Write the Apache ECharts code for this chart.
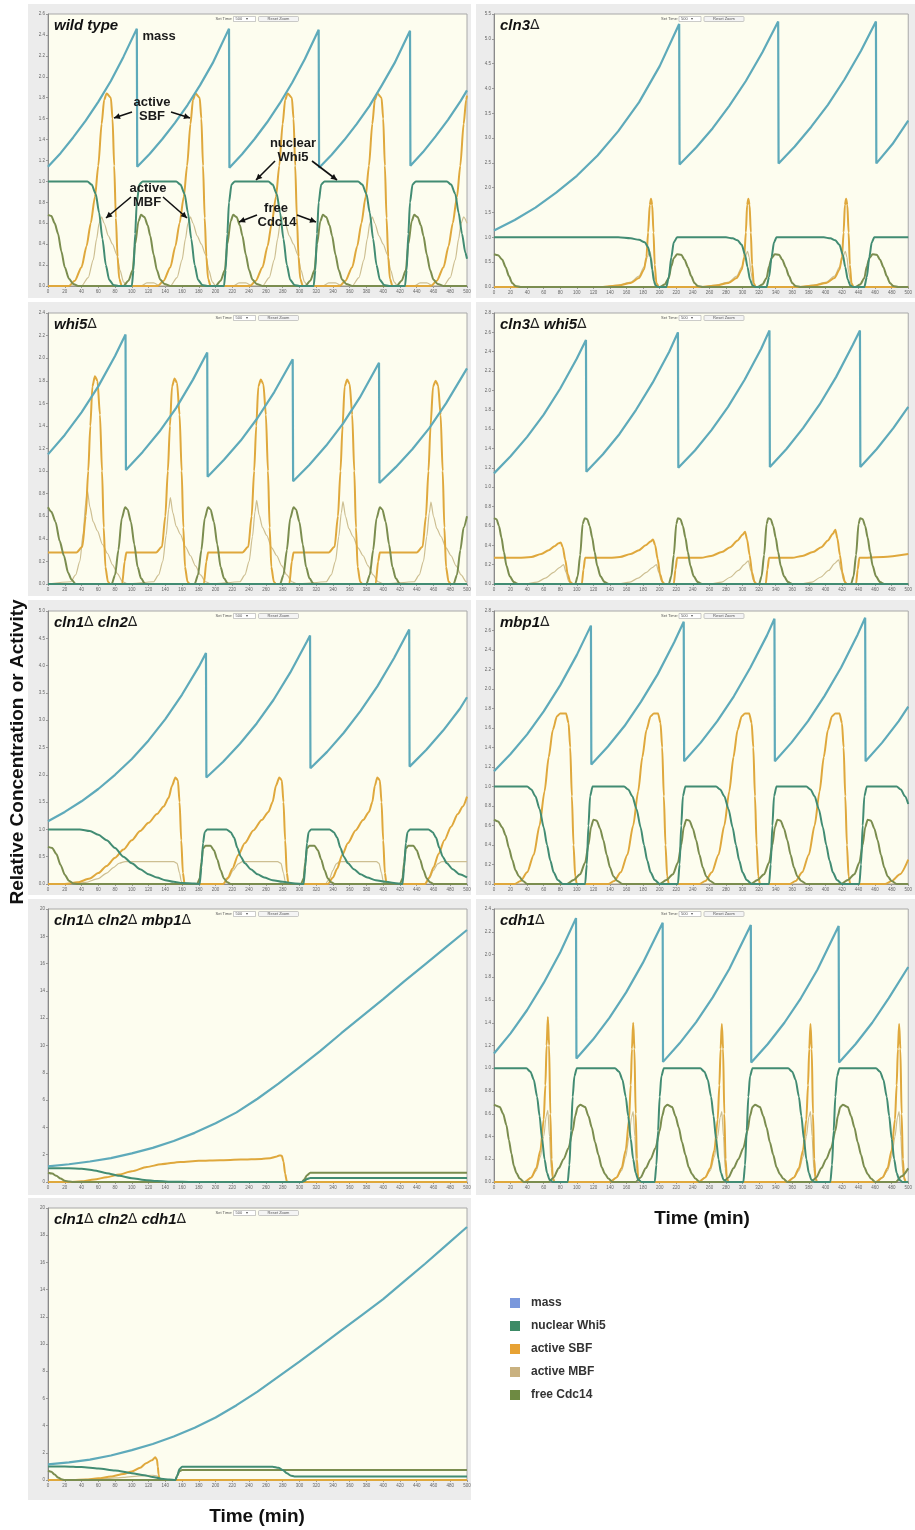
<!DOCTYPE html>
<html><head><meta charset="utf-8">
<script src="https://cdn.jsdelivr.net/npm/echarts@6/dist/echarts.min.js"></script>
<style>html,body{margin:0;padding:0;background:#fff}#c{width:915px;height:1530px}</style>
</head><body><div id="c"></div>
<script>
// ---------- tick labels / axes ----------
const timeMin = 0, timeMax = 500, timeStep = 20;
const seriesNames = ['active MBF', 'active SBF', 'free Cdc14', 'nuclear Whi5', 'mass'];
const legendNames = ['mass', 'nuclear Whi5', 'active SBF', 'active MBF', 'free Cdc14'];
const panelTitles = ['wild type', 'cln3Δ', 'whi5Δ', 'cln3Δ whi5Δ', 'cln1Δ cln2Δ', 'mbp1Δ', 'cln1Δ cln2Δ mbp1Δ', 'cdh1Δ', 'cln1Δ cln2Δ cdh1Δ'];
const yMaxes = [2.6, 5.5, 2.4, 2.8, 5.0, 2.8, 20, 2.4, 20];
const yIntervals = [0.2, 0.5, 0.2, 0.2, 0.5, 0.2, 2, 0.2, 2];

// ---------- wild type ----------
const wt_mass = [[0,1.14],[15,1.27],[30,1.42],[45,1.58],[60,1.76],[75,1.96],[90,2.19],[106,2.46],[106.5,1.14],[121.5,1.265],[136.5,1.405],[151.5,1.56],[166.5,1.73],[181.5,1.92],[196.5,2.13],[216,2.46],[216.5,1.13],[231.5,1.26],[246.5,1.405],[261.5,1.565],[276.5,1.745],[291.5,1.945],[306.5,2.17],[323,2.45],[323.5,1.13],[338.5,1.255],[353.5,1.395],[368.5,1.55],[383.5,1.72],[398.5,1.92],[413.5,2.13],[432,2.44],[432.5,1.15],[447.5,1.28],[462.5,1.43],[477.5,1.59],[492.5,1.77],[500,1.87]];
const wt_whi5 = [[0,1.0],[47,1.0],[52,0.97],[57,0.88],[61,0.7],[65,0.45],[69,0.2],[73,0.06],[78,0.01],[84,0],[100,0],[102,0.15],[104,0.5],[106,0.8],[109,0.97],[113,1.0],[153,1.0],[158,0.97],[163,0.88],[167,0.7],[171,0.45],[175,0.2],[179,0.06],[184,0.01],[190,0],[210,0],[212,0.15],[214,0.5],[216,0.8],[219,0.97],[223,1.0],[263,1.0],[268,0.97],[273,0.88],[277,0.7],[281,0.45],[285,0.2],[289,0.06],[294,0.01],[300,0],[317,0],[319,0.15],[321,0.5],[323,0.8],[326,0.97],[330,1.0],[370,1.0],[375,0.97],[380,0.88],[384,0.7],[388,0.45],[392,0.2],[396,0.06],[401,0.01],[407,0],[426,0],[428,0.15],[430,0.5],[432,0.8],[435,0.97],[439,1.0],[476,1.0],[481,0.97],[486,0.88],[490,0.7],[494,0.5],[498,0.32],[500,0.26]];
const wt_sbf = [[0,0],[25,0],[32,0.05],[40,0.18],[46,0.38],[51,0.6],[56,0.85],[60,1.15],[64,1.55],[67,1.78],[70,1.84],[75,1.8],[77,1.6],[79,1.15],[81,0.65],[83,0.28],[85,0.07],[88,0],[131,0],[138,0.05],[146,0.18],[152,0.38],[157,0.6],[162,0.85],[166,1.15],[170,1.55],[173,1.78],[176,1.84],[181,1.8],[183,1.6],[185,1.15],[187,0.65],[189,0.28],[191,0.07],[194,0],[241,0],[248,0.05],[256,0.18],[262,0.38],[267,0.6],[272,0.85],[276,1.15],[280,1.55],[283,1.78],[286,1.84],[291,1.8],[293,1.6],[295,1.15],[297,0.65],[299,0.28],[301,0.07],[304,0],[348,0],[355,0.05],[363,0.18],[369,0.38],[374,0.6],[379,0.85],[383,1.15],[387,1.55],[390,1.78],[393,1.84],[398,1.8],[400,1.6],[402,1.15],[404,0.65],[406,0.28],[408,0.07],[411,0],[457,0],[464,0.05],[472,0.18],[478,0.38],[483,0.6],[488,0.85],[492,1.15],[496,1.55],[499,1.78],[500,1.82]];
const wt_mbf = [[0,0],[40,0],[48,0.08],[54,0.25],[58,0.45],[61,0.6],[64,0.66],[67,0.6],[72,0.48],[77,0.4],[82,0.3],[86,0.15],[90,0.04],[94,0],[111,0],[118,0.03],[126,0.03],[134,0],[146,0],[154,0.08],[160,0.25],[164,0.45],[167,0.6],[170,0.66],[173,0.6],[178,0.48],[183,0.4],[188,0.3],[192,0.15],[196,0.04],[200,0],[221,0],[228,0.03],[236,0.03],[244,0],[256,0],[264,0.08],[270,0.25],[274,0.45],[277,0.6],[280,0.66],[283,0.6],[288,0.48],[293,0.4],[298,0.3],[302,0.15],[306,0.04],[310,0],[328,0],[335,0.03],[343,0.03],[351,0],[363,0],[371,0.08],[377,0.25],[381,0.45],[384,0.6],[387,0.66],[390,0.6],[395,0.48],[400,0.4],[405,0.3],[409,0.15],[413,0.04],[417,0],[437,0],[444,0.03],[452,0.03],[460,0],[472,0],[480,0.08],[486,0.25],[490,0.45],[493,0.6],[496,0.66],[500,0.6]];
const wt_cdc14 = [[0,0.68],[4,0.67],[8,0.6],[12,0.5],[16,0.33],[20,0.18],[25,0.07],[30,0.02],[36,0],[90,0],[96,0.05],[101,0.15],[104,0.4],[108,0.62],[111,0.68],[115,0.66],[119,0.58],[122,0.48],[126,0.3],[130,0.15],[134,0.06],[139,0.02],[146,0],[200,0],[206,0.05],[211,0.15],[214,0.4],[218,0.62],[221,0.68],[225,0.66],[229,0.58],[232,0.48],[236,0.3],[240,0.15],[244,0.06],[249,0.02],[256,0],[307,0],[313,0.05],[318,0.15],[321,0.4],[325,0.62],[328,0.68],[332,0.66],[336,0.58],[339,0.48],[343,0.3],[347,0.15],[351,0.06],[356,0.02],[363,0],[416,0],[422,0.05],[427,0.15],[430,0.4],[434,0.62],[437,0.68],[441,0.66],[445,0.58],[448,0.48],[452,0.3],[456,0.15],[460,0.06],[465,0.02],[472,0],[500,0]];

// ---------- cln3Δ ----------
const c3_mass = [[0,1.14],[25,1.35],[50,1.6],[75,1.9],[100,2.24],[125,2.65],[150,3.14],[175,3.72],[200,4.45],[223.5,5.3],[224,2.47],[244,2.81],[264,3.2],[284,3.65],[304,4.15],[324,4.73],[343,5.35],[343.5,2.49],[363,2.83],[383,3.23],[403,3.67],[423,4.18],[443,4.76],[461,5.35],[461.5,2.49],[481,2.88],[500,3.35]];
const c3_whi5 = [[0,1.0],[150,1.0],[165,0.98],[175,0.95],[182,0.9],[186,0.8],[189,0.6],[191,0.35],[193,0.12],[195,0.03],[198,0],[208,0],[211,0.2],[214,0.6],[217,0.9],[221,1.0],[280,1.0],[288,0.98],[294,0.94],[299,0.85],[303,0.65],[306,0.4],[309,0.15],[312,0.03],[316,0],[329,0],[332,0.2],[335,0.6],[338,0.9],[341,1.0],[398,1.0],[406,0.98],[412,0.94],[417,0.85],[421,0.65],[424,0.4],[427,0.15],[430,0.03],[434,0],[447,0],[450,0.2],[453,0.6],[456,0.9],[459,1.0],[500,1.0]];
const c3_sbf = [[0,0],[130,0],[150,0.03],[165,0.08],[175,0.18],[181,0.35],[184,0.6],[186,1.1],[188,1.65],[189.5,1.78],[191,1.65],[192.5,1.1],[194,0.45],[196,0.08],[199,0],[250,0],[268,0.03],[283,0.08],[293,0.18],[299,0.35],[302,0.6],[304,1.1],[305.5,1.65],[307,1.78],[308.5,1.65],[310,1.1],[311.5,0.45],[313.5,0.08],[316,0],[368,0],[386,0.03],[401,0.08],[411,0.18],[417,0.35],[420,0.6],[422,1.1],[423.5,1.65],[425,1.78],[426.5,1.65],[428,1.1],[429.5,0.45],[431.5,0.08],[434,0],[500,0]];
const c3_mbf = [[0,0],[130,0],[150,0.04],[165,0.1],[175,0.22],[181,0.4],[185,0.6],[188,0.72],[190,0.6],[192,0.3],[195,0.06],[198,0],[250,0],[268,0.04],[283,0.1],[293,0.22],[299,0.4],[303,0.6],[306,0.72],[308,0.6],[310,0.3],[313,0.06],[316,0],[368,0],[386,0.04],[401,0.1],[411,0.22],[417,0.4],[421,0.6],[424,0.72],[426,0.6],[428,0.3],[431,0.06],[434,0],[500,0]];
const c3_cdc14 = [[0,0.66],[5,0.64],[10,0.55],[14,0.4],[18,0.22],[22,0.08],[26,0.02],[32,0],[200,0],[206,0.05],[211,0.18],[214,0.42],[217,0.58],[221,0.66],[226,0.65],[230,0.55],[234,0.4],[238,0.22],[242,0.08],[246,0.02],[252,0],[318,0],[324,0.05],[329,0.18],[332,0.42],[335,0.58],[339,0.66],[344,0.65],[348,0.55],[352,0.4],[356,0.22],[360,0.08],[364,0.02],[370,0],[436,0],[442,0.05],[447,0.18],[450,0.42],[453,0.58],[457,0.66],[462,0.65],[466,0.55],[470,0.4],[474,0.22],[478,0.08],[482,0.02],[488,0],[500,0]];

// ---------- whi5Δ ----------
const w5_mass = [[0,1.148],[20,1.32],[40,1.52],[60,1.75],[80,2.02],[92.5,2.21],[93,1.01],[113,1.17],[133,1.35],[153,1.56],[173,1.81],[190,2.05],[190.5,0.95],[210,1.1],[230,1.27],[250,1.47],[270,1.7],[292,1.99],[292.5,0.91],[312,1.056],[332,1.226],[352,1.42],[372,1.65],[395,1.96],[395.5,0.895],[415,1.035],[435,1.196],[455,1.38],[475,1.6],[500,1.91]];
const w5_whi5 = [[0,0],[500,0]];
const w5_sbf = [[0,0.28],[34,0.28],[41,0.33],[45,0.6],[48,1.0],[50.5,1.4],[53,1.75],[56,1.84],[59,1.8],[62,1.5],[64.5,1.0],[66.5,0.5],[68.5,0.15],[71.5,0.02],[74,0],[88.5,0],[91.5,0.2],[93.5,0.28],[129,0.28],[136,0.33],[140,0.6],[143,1.0],[145.5,1.4],[148,1.75],[151,1.82],[154,1.78],[157,1.5],[159.5,1.0],[161.5,0.5],[163.5,0.15],[166.5,0.02],[169,0],[186,0],[189,0.2],[191,0.28],[232,0.28],[239,0.33],[243,0.6],[246,1.0],[248.5,1.4],[251,1.75],[254,1.81],[257,1.77],[260,1.5],[262.5,1.0],[264.5,0.5],[266.5,0.15],[269.5,0.02],[272,0],[288,0],[291,0.2],[293,0.28],[335,0.28],[342,0.33],[346,0.6],[349,1.0],[351.5,1.4],[354,1.75],[357,1.81],[360,1.77],[363,1.5],[365.5,1.0],[367.5,0.5],[369.5,0.15],[372.5,0.02],[375,0],[391,0],[394,0.2],[396,0.28],[440,0.28],[447,0.33],[451,0.6],[454,1.0],[456.5,1.4],[459.5,1.75],[462.5,1.8],[465.5,1.76],[468.5,1.5],[471,1.0],[473,0.5],[475,0.15],[478,0.02],[481,0],[500,0]];
const w5_mbf = [[0,0],[27,0.02],[33,0.08],[38,0.2],[42,0.45],[45,0.72],[47,0.83],[50,0.68],[54,0.55],[59,0.47],[65,0.35],[71,0.27],[77,0.17],[83,0.09],[89,0.02],[95,0],[126,0.02],[132,0.08],[137,0.2],[141,0.43],[144,0.66],[146,0.765],[149,0.63],[153,0.51],[158,0.44],[164,0.33],[170,0.25],[176,0.16],[182,0.08],[188,0.02],[194,0],[229,0.02],[235,0.08],[240,0.2],[244,0.42],[247,0.64],[249,0.74],[252,0.61],[256,0.5],[261,0.43],[267,0.32],[273,0.25],[279,0.16],[285,0.08],[291,0.02],[297,0],[332,0.02],[338,0.08],[343,0.2],[347,0.42],[350,0.63],[352,0.73],[355,0.6],[359,0.49],[364,0.42],[370,0.32],[376,0.25],[382,0.16],[388,0.08],[394,0.02],[400,0],[437,0.02],[443,0.08],[448,0.2],[452,0.42],[455,0.63],[457,0.726],[460,0.6],[464,0.49],[469,0.42],[475,0.32],[481,0.25],[487,0.16],[493,0.08],[499,0.02],[500,0.02]];
const w5_cdc14 = [[0,0.68],[4,0.64],[9,0.55],[14,0.38],[19,0.25],[24,0.1],[28,0.04],[33,0],[76,0],[80,0.08],[84,0.3],[88,0.58],[92,0.68],[95,0.66],[99,0.55],[103,0.35],[107,0.15],[111,0.05],[116,0],[175,0],[179,0.08],[183,0.3],[187,0.58],[191,0.68],[194,0.66],[198,0.55],[202,0.35],[206,0.15],[210,0.05],[215,0],[277,0],[281,0.08],[285,0.3],[289,0.58],[293,0.68],[296,0.66],[300,0.55],[304,0.35],[308,0.15],[312,0.05],[317,0],[380,0],[384,0.08],[388,0.3],[392,0.58],[396,0.68],[399,0.66],[403,0.55],[407,0.35],[411,0.15],[415,0.05],[420,0],[484,0],[488,0.08],[492,0.3],[496,0.5],[500,0.6]];

// ---------- cln3Δ whi5Δ ----------
const c3w5_mass = [[0,1.143],[20,1.32],[40,1.52],[60,1.75],[80,2.02],[100,2.33],[111,2.52],[111.5,1.16],[131.5,1.34],[151.5,1.55],[171.5,1.8],[191.5,2.08],[211.5,2.4],[222,2.6],[222.5,1.2],[242.5,1.38],[262.5,1.59],[282.5,1.83],[302.5,2.11],[322.5,2.43],[332.5,2.62],[333,1.21],[353,1.395],[373,1.61],[393,1.855],[413,2.14],[433,2.47],[441.7,2.62],[442.2,1.21],[462,1.395],[482,1.61],[500,1.83]];
const c3w5_whi5 = [[0,0],[500,0]];
const c3w5_sbf = [[0,0.27],[30,0.27],[45,0.28],[57,0.31],[66,0.35],[73,0.39],[78,0.42],[80.5,0.43],[83,0.38],[86,0.25],[89,0.1],[92,0.02],[95,0],[106,0],[108,0.15],[110,0.27],[140,0.27],[152,0.28],[165,0.31],[175,0.35],[183,0.4],[189,0.44],[192,0.46],[194.5,0.4],[197.5,0.26],[200.5,0.1],[203.5,0.02],[206,0],[217,0],[219,0.15],[221,0.27],[250,0.27],[262,0.29],[275,0.33],[285,0.38],[294,0.45],[300,0.51],[303,0.54],[305.5,0.46],[308.5,0.3],[311.5,0.12],[314.5,0.02],[317,0],[328,0],[330,0.15],[332,0.27],[360,0.27],[372,0.29],[385,0.33],[395,0.38],[403,0.45],[409,0.52],[412,0.56],[414.5,0.47],[417.5,0.3],[420.5,0.12],[423.5,0.02],[426,0],[437,0],[439,0.15],[441,0.27],[470,0.28],[500,0.31]];
const c3w5_mbf = [[0,0],[37,0],[52,0.02],[62,0.06],[72,0.12],[79,0.17],[84,0.2],[87,0.12],[90,0.03],[93,0],[149,0],[164,0.02],[174,0.06],[184,0.12],[191,0.17],[196,0.2],[199,0.12],[202,0.03],[205,0],[260,0],[275,0.02],[285,0.07],[295,0.14],[302,0.2],[307,0.24],[310,0.14],[313,0.04],[316,0],[369,0],[384,0.02],[394,0.07],[404,0.14],[411,0.21],[416,0.25],[419,0.14],[422,0.04],[425,0],[500,0]];
const c3w5_cdc14 = [[0,0.68],[3,0.67],[6,0.6],[9,0.48],[12,0.33],[15,0.19],[19,0.08],[24,0.02],[29,0],[98,0],[101,0.08],[104,0.3],[107,0.62],[109.5,0.68],[112.5,0.67],[115.5,0.6],[118.5,0.48],[121.5,0.33],[124.5,0.19],[128.5,0.08],[133.5,0.02],[138.5,0],[211,0],[214,0.08],[217,0.3],[220,0.62],[222,0.68],[225,0.67],[228,0.6],[231,0.48],[234,0.33],[237,0.19],[241,0.08],[246,0.02],[251,0],[320,0],[323,0.08],[326,0.3],[329,0.62],[331,0.68],[334,0.67],[337,0.6],[340,0.48],[343,0.33],[346,0.19],[350,0.08],[355,0.02],[360,0],[431,0],[434,0.08],[437,0.3],[440,0.62],[442,0.68],[445,0.67],[448,0.6],[451,0.48],[454,0.33],[457,0.19],[461,0.08],[466,0.02],[471,0],[500,0]];

// ---------- cln1Δ cln2Δ ----------
const c12_mass = [[0,1.15],[20,1.32],[40,1.515],[60,1.74],[80,2.0],[100,2.29],[120,2.63],[140,3.02],[160,3.47],[180,3.98],[188.5,4.23],[189,1.95],[209,2.24],[229,2.57],[249,2.94],[269,3.37],[289,3.87],[309,4.44],[312.7,4.55],[313.2,2.12],[333,2.42],[353,2.77],[373,3.17],[393,3.62],[413,4.14],[431,4.66],[431.5,2.15],[451.5,2.46],[471.5,2.81],[491.5,3.21],[500,3.42]];
const c12_whi5 = [[0,1.0],[38,1.0],[50,0.97],[60,0.9],[70,0.8],[80,0.66],[90,0.5],[100,0.38],[110,0.27],[120,0.18],[130,0.12],[140,0.07],[150,0.04],[160,0.02],[175,0.01],[181,0],[183,0.3],[185,0.75],[187,0.95],[190,1.0],[213,1.0],[218,0.95],[222,0.85],[226,0.66],[230,0.5],[235,0.38],[242,0.27],[250,0.18],[258,0.12],[268,0.07],[280,0.04],[295,0.01],[305,0],[307,0.3],[309,0.75],[311,0.95],[314,1.0],[336,1.0],[341,0.95],[345,0.85],[349,0.66],[353,0.5],[358,0.38],[365,0.27],[373,0.18],[381,0.12],[391,0.07],[403,0.04],[418,0.01],[423,0],[425,0.3],[427,0.75],[429,0.95],[432,1.0],[454,1.0],[459,0.95],[463,0.85],[467,0.66],[471,0.5],[476,0.38],[483,0.27],[491,0.18],[500,0.12]];
const c12_sbf = [[0,0],[20,0],[35,0.03],[50,0.1],[60,0.2],[70,0.33],[80,0.48],[90,0.63],[100,0.8],[110,0.97],[120,1.12],[130,1.28],[138,1.42],[144,1.58],[148,1.8],[152,1.95],[155,1.9],[157,1.5],[159,0.8],[161,0.2],[163,0],[209,0],[215,0.12],[220,0.28],[227,0.53],[235,0.75],[245,0.98],[255,1.17],[263,1.32],[268,1.5],[272,1.8],[276,1.95],[279,1.9],[281,1.5],[283,0.8],[285,0.2],[287,0],[334,0],[340,0.12],[345,0.28],[351,0.53],[358,0.75],[367,0.98],[376,1.17],[383,1.32],[387,1.5],[390,1.8],[393,1.95],[396,1.9],[398,1.5],[400,0.8],[402,0.2],[404,0],[450,0],[455,0.12],[460,0.3],[466,0.55],[473,0.8],[481,1.05],[489,1.28],[495,1.42],[500,1.6]];
const c12_mbf = [[0,0],[30,0],[45,0.03],[60,0.1],[70,0.2],[78,0.3],[85,0.38],[92,0.41],[150,0.41],[154,0.38],[157,0.2],[159,0.05],[161,0],[209,0],[215,0.1],[221,0.25],[227,0.37],[232,0.41],[274,0.41],[278,0.38],[281,0.2],[283,0.05],[285,0],[331,0],[336,0.1],[340,0.25],[344,0.37],[348,0.41],[392,0.41],[395,0.38],[398,0.2],[400,0.05],[402,0],[450,0],[455,0.1],[460,0.25],[465,0.37],[470,0.41],[500,0.41]];
const c12_cdc14 = [[0,0.68],[5,0.66],[10,0.55],[15,0.35],[20,0.17],[25,0.06],[30,0.01],[36,0],[178,0],[181,0.1],[183,0.4],[185,0.65],[188,0.7],[194,0.7],[198,0.62],[202,0.45],[206,0.25],[210,0.1],[214,0.03],[218,0],[302,0],[305,0.1],[307,0.4],[309,0.65],[312,0.7],[318,0.7],[322,0.62],[326,0.45],[330,0.25],[334,0.1],[338,0.03],[342,0],[420,0],[423,0.1],[425,0.4],[427,0.65],[430,0.7],[436,0.7],[440,0.62],[444,0.45],[448,0.25],[452,0.1],[456,0.03],[460,0],[500,0]];

// ---------- mbp1Δ ----------
const mb_mass = [[0,1.157],[20,1.333],[40,1.535],[60,1.77],[80,2.04],[100,2.35],[117,2.65],[117.5,1.226],[137.5,1.41],[157.5,1.62],[177.5,1.87],[197.5,2.15],[217.5,2.48],[229,2.69],[229.5,1.26],[249.5,1.45],[269.5,1.67],[289.5,1.925],[309.5,2.22],[329.5,2.55],[338.5,2.72],[339,1.26],[359,1.45],[379,1.67],[399,1.93],[419,2.22],[439,2.56],[448,2.73],[448.5,1.26],[468.5,1.45],[488.5,1.67],[500,1.82]];
const mb_whi5 = [[0,1.0],[40,1.0],[45,0.97],[50,0.9],[55,0.77],[60,0.58],[64,0.4],[68,0.24],[72,0.12],[77,0.04],[83,0],[110,0],[112,0.2],[114,0.6],[116,0.9],[119,1.0],[157,1.0],[162,0.97],[167,0.9],[172,0.77],[177,0.58],[181,0.4],[185,0.24],[189,0.12],[194,0.04],[200,0],[222,0],[224,0.2],[226,0.6],[228,0.9],[231,1.0],[268,1.0],[273,0.97],[278,0.9],[283,0.77],[288,0.58],[292,0.4],[296,0.24],[300,0.12],[305,0.04],[311,0],[332,0],[334,0.2],[336,0.6],[338,0.9],[341,1.0],[377,1.0],[382,0.97],[387,0.9],[392,0.77],[397,0.58],[401,0.4],[405,0.24],[409,0.12],[414,0.04],[420,0],[441,0],[443,0.2],[445,0.6],[447,0.9],[450,1.0],[486,1.0],[491,0.97],[496,0.9],[500,0.82]];
const mb_sbf = [[0,0],[25,0],[32,0.03],[40,0.12],[48,0.3],[55,0.6],[61,0.95],[66,1.3],[71,1.58],[76,1.72],[80,1.75],[87,1.75],[90,1.65],[92,1.4],[94,0.9],[96,0.4],[98,0.08],[100,0],[138,0],[145,0.03],[153,0.12],[161,0.3],[168,0.6],[174,0.95],[179,1.3],[184,1.58],[189,1.72],[193,1.75],[198,1.75],[201,1.65],[203,1.4],[205,0.9],[207,0.4],[209,0.08],[211,0],[248,0],[255,0.03],[263,0.12],[271,0.3],[278,0.6],[284,0.95],[289,1.3],[294,1.58],[299,1.72],[303,1.75],[308,1.75],[311,1.65],[313,1.4],[315,0.9],[317,0.4],[319,0.08],[321,0],[357,0],[364,0.03],[372,0.12],[380,0.3],[387,0.6],[393,0.95],[398,1.3],[403,1.58],[408,1.72],[412,1.75],[417,1.75],[420,1.65],[422,1.4],[424,0.9],[426,0.4],[428,0.08],[430,0],[472,0],[480,0.03],[490,0.1],[500,0.25]];
const mb_mbf = [[0,0],[500,0]];
const mb_cdc14 = [[0,0.66],[5,0.64],[10,0.58],[14,0.5],[18,0.37],[22,0.25],[26,0.14],[30,0.08],[35,0.03],[40,0],[88,0],[96,0.04],[104,0.1],[110,0.22],[114,0.4],[117,0.58],[120,0.66],[124,0.65],[128,0.57],[132,0.45],[136,0.3],[140,0.17],[144,0.08],[149,0.03],[155,0],[200,0],[208,0.04],[216,0.1],[222,0.22],[226,0.4],[229,0.58],[232,0.66],[236,0.65],[240,0.57],[244,0.45],[248,0.3],[252,0.17],[256,0.08],[261,0.03],[267,0],[310,0],[318,0.04],[326,0.1],[332,0.22],[336,0.4],[339,0.58],[342,0.66],[346,0.65],[350,0.57],[354,0.45],[358,0.3],[362,0.17],[366,0.08],[371,0.03],[377,0],[419,0],[427,0.04],[435,0.1],[441,0.22],[445,0.4],[448,0.58],[451,0.66],[455,0.65],[459,0.57],[463,0.45],[467,0.3],[471,0.17],[475,0.08],[480,0.03],[486,0],[500,0]];

// ---------- cln1Δ cln2Δ mbp1Δ ----------
const c12m_mass = [[0,1.15],[25,1.3],[50,1.5],[75,1.75],[100,2.1],[125,2.5],[150,3.0],[175,3.6],[200,4.3],[225,5.1],[250,6.1],[275,7.2],[300,8.4],[325,9.6],[350,10.9],[375,12.15],[400,13.4],[425,14.7],[450,15.95],[475,17.2],[500,18.46]];
const c12m_whi5 = [[0,1.0],[25,1.0],[40,0.97],[55,0.85],[70,0.65],[85,0.45],[100,0.28],[115,0.15],[130,0.07],[150,0.02],[170,0],[303,0],[306,0.08],[309,0.22],[313,0.29],[500,0.29]];
const c12m_sbf = [[0,0],[25,0],[40,0.05],[55,0.18],[70,0.35],[85,0.55],[100,0.78],[118,1.1],[135,1.3],[158,1.47],[180,1.55],[205,1.6],[230,1.64],[255,1.69],[265,1.74],[272,1.85],[276,1.95],[279,1.92],[281,1.5],[283,0.6],[285,0.05],[287,0],[500,0]];
const c12m_mbf = [[0,0],[500,0]];
const c12m_cdc14 = [[0,0.68],[5,0.62],[10,0.45],[15,0.25],[20,0.1],[25,0.03],[30,0],[303,0],[306,0.2],[309,0.5],[313,0.68],[500,0.68]];

// ---------- cdh1Δ ----------
const cd_mass = [[0,1.13],[20,1.307],[40,1.512],[60,1.75],[80,2.02],[99,2.32],[99.5,1.085],[119.5,1.252],[139.5,1.445],[159.5,1.667],[179.5,1.924],[203.6,2.28],[204,1.056],[224,1.219],[244,1.406],[264,1.623],[284,1.873],[310,2.26],[310.5,1.05],[330.5,1.213],[350.5,1.4],[370.5,1.617],[390.5,1.868],[416,2.25],[416.5,1.05],[436.5,1.213],[456.5,1.4],[476.5,1.617],[500,1.89]];
const cd_whi5 = [[0,1.0],[39,1.0],[44,0.97],[48,0.9],[52,0.75],[55,0.58],[58,0.38],[61,0.2],[64,0.08],[67,0.02],[71,0],[89,0],[91,0.15],[93,0.45],[95,0.75],[97,0.93],[100,1.0],[146,1.0],[151,0.97],[155,0.9],[159,0.75],[162,0.58],[165,0.38],[168,0.2],[171,0.08],[174,0.02],[178,0],[194,0],[196,0.15],[198,0.45],[200,0.75],[202,0.93],[205,1.0],[249,1.0],[254,0.97],[258,0.9],[262,0.75],[265,0.58],[268,0.38],[271,0.2],[274,0.08],[277,0.02],[281,0],[301,0],[303,0.15],[305,0.45],[307,0.75],[309,0.93],[312,1.0],[355,1.0],[360,0.97],[364,0.9],[368,0.75],[371,0.58],[374,0.38],[377,0.2],[380,0.08],[383,0.02],[387,0],[406,0],[408,0.15],[410,0.45],[412,0.75],[414,0.93],[417,1.0],[461,1.0],[466,0.97],[470,0.9],[474,0.75],[477,0.58],[480,0.38],[483,0.2],[486,0.08],[489,0.02],[493,0],[500,0]];
const cd_sbf = [[0,0],[37,0],[45,0.04],[51,0.12],[56,0.28],[60,0.55],[62,0.85],[63.5,1.2],[65,1.45],[66.5,1.2],[68,0.6],[69.5,0.2],[71,0.04],[73,0],[140,0],[148,0.04],[154,0.12],[159,0.28],[163,0.55],[165,0.85],[166.5,1.17],[168,1.4],[169.5,1.17],[171,0.6],[172.5,0.2],[174,0.04],[176,0],[247,0],[255,0.04],[261,0.12],[266,0.28],[270,0.55],[272,0.85],[273.5,1.17],[275,1.39],[276.5,1.17],[278,0.6],[279.5,0.2],[281,0.04],[283,0],[354,0],[362,0.04],[368,0.12],[373,0.28],[377,0.55],[379,0.85],[380.5,1.17],[382,1.39],[383.5,1.17],[385,0.6],[386.5,0.2],[388,0.04],[390,0],[461,0],[469,0.04],[475,0.12],[480,0.28],[484,0.55],[486,0.85],[487.5,1.17],[489,1.39],[490.5,1.17],[492,0.6],[493.5,0.2],[495,0.04],[497,0],[500,0]];
const cd_mbf = [[0,0],[37,0],[45,0.04],[51,0.1],[56,0.22],[60,0.4],[63,0.58],[65,0.63],[67,0.4],[69,0.12],[71,0.02],[73,0],[140,0],[148,0.04],[154,0.1],[159,0.22],[163,0.4],[166,0.57],[168,0.62],[170,0.4],[172,0.12],[174,0.02],[176,0],[247,0],[255,0.04],[261,0.1],[266,0.22],[270,0.4],[273,0.57],[275,0.62],[277,0.4],[279,0.12],[281,0.02],[283,0],[354,0],[362,0.04],[368,0.1],[373,0.22],[377,0.4],[380,0.57],[382,0.62],[384,0.4],[386,0.12],[388,0.02],[390,0],[461,0],[469,0.04],[475,0.1],[480,0.22],[484,0.4],[487,0.57],[489,0.62],[491,0.4],[493,0.12],[495,0.02],[497,0],[500,0]];
const cd_cdc14 = [[0,0.68],[7,0.66],[11,0.6],[15,0.5],[18,0.37],[21,0.25],[24,0.14],[27,0.08],[31,0.03],[36,0],[66,0],[72,0.04],[78,0.12],[84,0.2],[90,0.3],[95,0.45],[98,0.58],[101,0.66],[104,0.68],[110,0.66],[114,0.58],[118,0.48],[122,0.35],[126,0.24],[130,0.13],[134,0.07],[138,0.03],[143,0],[171,0],[177,0.04],[183,0.12],[189,0.2],[195,0.3],[200,0.45],[203,0.58],[206,0.66],[209,0.68],[215,0.66],[219,0.58],[223,0.48],[227,0.35],[231,0.24],[235,0.13],[239,0.07],[243,0.03],[248,0],[277,0],[283,0.04],[289,0.12],[295,0.2],[301,0.3],[306,0.45],[309,0.58],[312,0.66],[315,0.68],[321,0.66],[325,0.58],[329,0.48],[333,0.35],[337,0.24],[341,0.13],[345,0.07],[349,0.03],[354,0],[383,0],[389,0.04],[395,0.12],[401,0.2],[407,0.3],[412,0.45],[415,0.58],[418,0.66],[421,0.68],[427,0.66],[431,0.58],[435,0.48],[439,0.35],[443,0.24],[447,0.13],[451,0.07],[455,0.03],[460,0],[485,0],[492,0.05],[500,0.12]];

// ---------- cln1Δ cln2Δ cdh1Δ ----------
const c12c_mass = [[0,1.15],[25,1.3],[50,1.5],[75,1.8],[100,2.2],[125,2.65],[150,3.2],[175,3.85],[200,4.6],[225,5.5],[250,6.5],[275,7.6],[300,8.7],[325,9.85],[350,11.0],[375,12.15],[400,13.3],[425,14.6],[450,15.9],[475,17.25],[500,18.6]];
const c12c_whi5 = [[0,1.0],[20,1.0],[40,0.95],[60,0.85],[80,0.7],[100,0.5],[115,0.35],[125,0.22],[135,0.1],[145,0.03],[152,0],[154,0.3],[157,0.8],[160,0.98],[268,0.98],[275,0.9],[280,0.74],[285,0.5],[290,0.32],[294,0.26],[300,0.25],[500,0.25]];
const c12c_sbf = [[0,0],[30,0],[45,0.04],[60,0.12],[75,0.25],[90,0.45],[100,0.62],[110,0.9],[117,1.23],[124,1.45],[128,1.67],[130,1.5],[131,1.0],[132,0.4],[133,0.05],[134,0],[500,0]];
const c12c_mbf = [[0,0],[30,0],[50,0.04],[70,0.1],[90,0.2],[110,0.3],[125,0.35],[130,0.3],[132,0.1],[134,0],[500,0]];
const c12c_cdc14 = [[0,0.69],[4,0.6],[8,0.4],[12,0.18],[16,0.05],[20,0],[152,0],[154,0.3],[157,0.65],[160,0.74],[500,0.74]];

// order per panel: MBF, SBF, Cdc14, Whi5, mass
const panelData = [
  [wt_mbf, wt_sbf, wt_cdc14, wt_whi5, wt_mass],
  [c3_mbf, c3_sbf, c3_cdc14, c3_whi5, c3_mass],
  [w5_mbf, w5_sbf, w5_cdc14, w5_whi5, w5_mass],
  [c3w5_mbf, c3w5_sbf, c3w5_cdc14, c3w5_whi5, c3w5_mass],
  [c12_mbf, c12_sbf, c12_cdc14, c12_whi5, c12_mass],
  [mb_mbf, mb_sbf, mb_cdc14, mb_whi5, mb_mass],
  [c12m_mbf, c12m_sbf, c12m_cdc14, c12m_whi5, c12m_mass],
  [cd_mbf, cd_sbf, cd_cdc14, cd_whi5, cd_mass],
  [c12c_mbf, c12c_sbf, c12c_cdc14, c12c_whi5, c12c_mass]
];

// ---------- layout / style ----------
const FONT = '"Liberation Sans", Arial, sans-serif';
const lineColors = ['#cdbf92', '#dfa83c', '#7b8d4f', '#428c73', '#5eaaba'];
const lineWidths = [1.2, 2, 2, 2, 2.2];
const legendColors = {'mass':'#7a98dc','nuclear Whi5':'#3c8a66','active SBF':'#e7a234','active MBF':'#c9b180','free Cdc14':'#6e8a42'};
const grids = [
  {left:48, top:14, width:419, height:272},
  {left:494, top:14, width:418, height:273},
  {left:48, top:313, width:419, height:271},
  {left:494, top:313, width:418, height:271},
  {left:48, top:611, width:419, height:273},
  {left:494, top:611, width:418, height:273},
  {left:48, top:909, width:419, height:273},
  {left:494, top:909, width:418, height:273},
  {left:48, top:1208, width:419, height:272}
];
const panelBoxes = [
  [28,4,443,294],[476,4,439,294],
  [28,302,443,294],[476,302,439,294],
  [28,600,443,295],[476,600,439,295],
  [28,899,443,296],[476,899,439,296],
  [28,1198,443,302]
];

const graphic = [];
panelBoxes.forEach(b => graphic.push({type:'rect', z:-5, shape:{x:b[0],y:b[1],width:b[2],height:b[3]}, style:{fill:'#ececec'}}));

grids.forEach((g, i) => {
  const parts = panelTitles[i].split('Δ');
  let rt = '';
  parts.forEach((p, k) => {
    if (p.length) rt += '{g|' + p + '}';
    if (k < parts.length - 1) rt += '{d|Δ}';
  });
  graphic.push({type:'text', z:50, x:g.left+6, y:g.top+4, style:{text:rt, rich:{
    g:{font:'italic bold 15px ' + FONT, fill:'#111'},
    d:{font:'14px "DejaVu Sans", sans-serif', fill:'#222'}
  }}});
  const cx = g.left + g.width / 2;
  const cy = g.top + 5;
  graphic.push({type:'text', z:50, x:cx-42, y:cy, style:{text:'Set Time:', font:'4px ' + FONT, fill:'#555', verticalAlign:'middle'}});
  graphic.push({type:'rect', z:50, shape:{x:cx-24, y:cy-2.5, width:22, height:5}, style:{fill:'#fff', stroke:'#aaa', lineWidth:0.6}});
  graphic.push({type:'text', z:51, x:cx-22, y:cy, style:{text:'500   ▾', font:'4px ' + FONT, fill:'#555', verticalAlign:'middle'}});
  graphic.push({type:'rect', z:50, shape:{x:cx+1, y:cy-2.5, width:40, height:5, r:1}, style:{fill:'#f4f4f4', stroke:'#aaa', lineWidth:0.6}});
  graphic.push({type:'text', z:51, x:cx+21, y:cy, style:{text:'Reset Zoom', font:'4px ' + FONT, fill:'#555', align:'center', verticalAlign:'middle'}});
});

function addLabel(txt, x, y) {
  graphic.push({type:'text', z:60, x:x, y:y, style:{text:txt, font:'bold 13px ' + FONT, fill:'#1a1a1a', align:'center', verticalAlign:'middle'}});
}
function addArrow(x1, y1, x2, y2) {
  graphic.push({type:'line', z:60, shape:{x1:x1, y1:y1, x2:x2, y2:y2}, style:{stroke:'#111', lineWidth:1.6}});
  const a = Math.atan2(y2 - y1, x2 - x1), L = 6, W = 3;
  const bx = x2 - L * Math.cos(a), by = y2 - L * Math.sin(a);
  const nx = -Math.sin(a) * W, ny = Math.cos(a) * W;
  graphic.push({type:'polygon', z:60, shape:{points:[[x2,y2],[bx+nx,by+ny],[bx-nx,by-ny]]}, style:{fill:'#111'}});
}
addLabel('mass', 159, 36);
addLabel('active', 152, 102); addLabel('SBF', 152, 116);
addArrow(132, 112, 114, 118); addArrow(171, 112, 190, 118);
addLabel('nuclear', 293, 143); addLabel('Whi5', 293, 157);
addArrow(275, 161, 256, 180); addArrow(312, 161, 337, 180);
addLabel('active', 148, 188); addLabel('MBF', 147, 202);
addArrow(131, 197, 106, 218); addArrow(163, 197, 187, 218);
addLabel('free', 276, 208); addLabel('Cdc14', 277, 222);
addArrow(257, 215, 239, 222); addArrow(297, 215, 316, 222);

graphic.push({type:'text', z:60, x:18, y:752, rotation:Math.PI/2, style:{text:'Relative Concentration or Activity', font:'bold 19px ' + FONT, fill:'#111', align:'center', verticalAlign:'middle'}});
graphic.push({type:'text', z:60, x:702, y:1219, style:{text:'Time (min)', font:'bold 19px ' + FONT, fill:'#111', align:'center', verticalAlign:'middle'}});
graphic.push({type:'text', z:60, x:257, y:1517, style:{text:'Time (min)', font:'bold 19px ' + FONT, fill:'#111', align:'center', verticalAlign:'middle'}});

const xAxes = [], yAxes = [], series = [];
grids.forEach((g, i) => {
  xAxes.push({type:'value', gridIndex:i, min:timeMin, max:timeMax, interval:timeStep,
    axisLine:{show:true, lineStyle:{color:'#8a8a8a', width:1}},
    axisTick:{show:true, length:2, lineStyle:{color:'#999'}},
    axisLabel:{fontSize:4.5, color:'#666', margin:3, fontFamily:FONT},
    splitLine:{show:false}});
  const yi = yIntervals[i];
  yAxes.push({type:'value', gridIndex:i, min:0, max:yMaxes[i], interval:yi,
    axisLine:{show:true, lineStyle:{color:'#8a8a8a', width:1}},
    axisTick:{show:true, length:2, lineStyle:{color:'#999'}},
    axisLabel:{fontSize:4.5, color:'#666', margin:3, fontFamily:FONT,
      formatter: v => yi >= 1 ? String(Math.round(v)) : v.toFixed(1)},
    splitLine:{show:false}});
  panelData[i].forEach((d, k) => {
    series.push({type:'line', name:seriesNames[k], xAxisIndex:i, yAxisIndex:i, data:d,
      showSymbol:false, symbol:'none', smooth: k === 4 ? false : 0.25, smoothMonotone:'x',
      lineStyle:{color:lineColors[k], width:lineWidths[k]}, itemStyle:{color:lineColors[k]},
      animation:false, silent:true, clip:true, z: 2 + k});
  });
});

const chart = echarts.init(document.getElementById('c'), null, {renderer:'canvas'});
chart.setOption({
  backgroundColor:'#ffffff',
  animation:false,
  grid: grids.map(g => Object.assign({show:true, backgroundColor:'#fdfdef', borderColor:'#a8a8a8', borderWidth:1}, g)),
  xAxis: xAxes,
  yAxis: yAxes,
  series: series,
  legend: {orient:'vertical', left:505, top:1292, itemWidth:10, itemHeight:10, itemGap:11, icon:'rect', selectedMode:false,
    textStyle:{fontSize:12, fontWeight:'bold', color:'#333', fontFamily:FONT, padding:[0,0,0,6]},
    data: legendNames.map(n => ({name:n, itemStyle:{color:legendColors[n]}}))},
  graphic: graphic
});
</script></body></html>
